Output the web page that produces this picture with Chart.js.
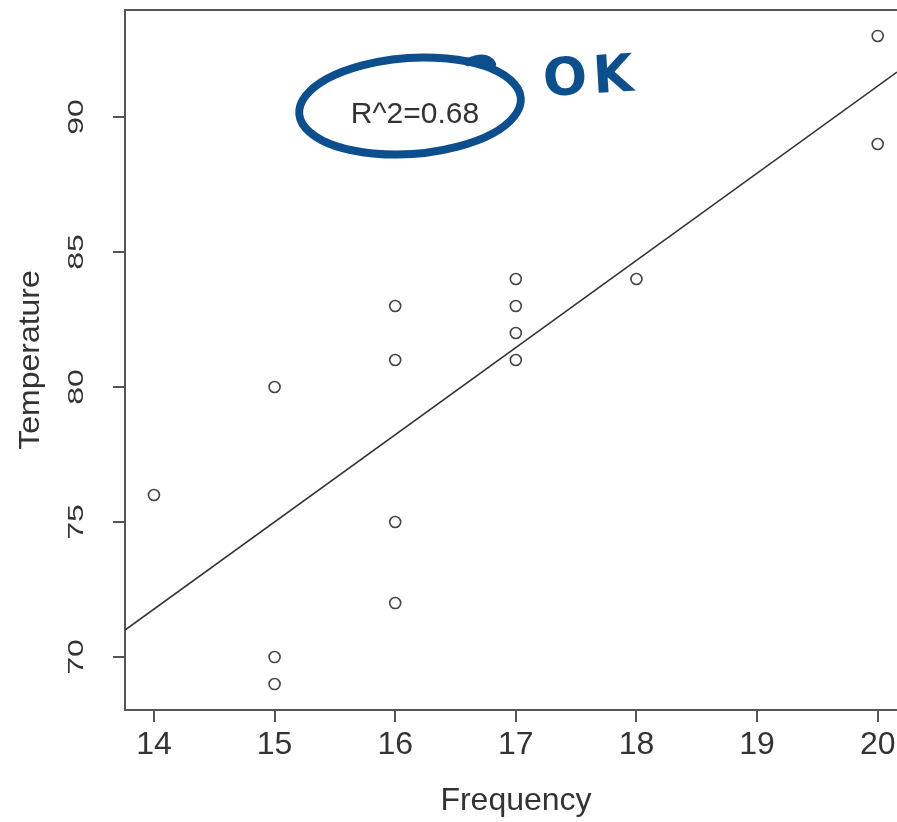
<!DOCTYPE html>
<html>
<head>
<meta charset="utf-8">
<script src="https://cdn.jsdelivr.net/npm/chart.js@4"></script>
<style>
  html, body { margin: 0; padding: 0; background: #fff; }
  #wrap { width: 897px; height: 822px; }
</style>
</head>
<body>
<div id="wrap"><canvas id="c" width="897" height="822"></canvas></div>
<script>
// ---- data ----
const frequency   = [14, 15, 15, 15, 16, 16, 16, 16, 17, 17, 17, 17, 18, 20, 20];
const temperature = [76, 80, 70, 69, 83, 81, 75, 72, 84, 83, 82, 81, 84, 93, 89];
const fitX = [13.76, 20.16];       // regression line ends (visible range)
const fitY = [71.0, 91.66];
const xTicks = [14, 15, 16, 17, 18, 19, 20];
const yTicks = [70, 75, 80, 85, 90];
const xLabel = 'Frequency';
const yLabel = 'Temperature';
const r2Text = 'R^2=0.68';
const noteText = 'OK';

const FONT = '"Liberation Sans", Arial, Helvetica, sans-serif';
const AXIS = '#555';
const INK = '#333';
const BLUE = '#0c4f8c';

const points = frequency.map((f, i) => ({ x: f, y: temperature[i] }));
const fitLine = fitX.map((f, i) => ({ x: f, y: fitY[i] }));

const overlay = {
  id: 'overlay',
  afterDraw(chart) {
    const ctx = chart.ctx;
    const a = chart.chartArea;
    const ys = chart.scales.y;
    ctx.save();
    // top border of the box
    ctx.strokeStyle = AXIS; ctx.lineWidth = 2;
    ctx.beginPath(); ctx.moveTo(a.left, a.top); ctx.lineTo(a.right, a.top); ctx.stroke();

    // y tick labels (rotated, R style)
    ctx.fillStyle = INK;
    ctx.font = '32px ' + FONT;
    ctx.textAlign = 'center';
    ctx.textBaseline = 'alphabetic';
    yTicks.forEach(v => {
      const py = ys.getPixelForValue(v);
      ctx.save();
      ctx.translate(83, py);
      ctx.rotate(-Math.PI / 2);
      ctx.scale(1, 0.68);
      ctx.fillText(String(v), 0, 0);
      ctx.restore();
    });
    // y axis title
    ctx.save();
    ctx.translate(39, (a.top + a.bottom) / 2);
    ctx.rotate(-Math.PI / 2);
    ctx.scale(1, 0.9);
    ctx.fillText(yLabel, 0, 0);
    ctx.restore();
    // x axis title
    ctx.fillText(xLabel, 516, 810);

    // R^2 annotation
    ctx.font = '30px ' + FONT;
    ctx.fillText(r2Text, 415, 123);

    // hand-drawn blue ellipse
    ctx.strokeStyle = BLUE;
    ctx.lineWidth = 8;
    ctx.lineCap = 'round';
    ctx.beginPath();
    ctx.ellipse(410, 106, 111, 48, -0.07, -1.2, 2 * Math.PI - 1.15);
    ctx.stroke();
    ctx.beginPath();
    ctx.moveTo(468, 62);
    ctx.quadraticCurveTo(486, 54, 492, 64);
    ctx.stroke();

    // OK note
    ctx.fillStyle = BLUE;
    ctx.font = 'bold 52px "DejaVu Sans", sans-serif';
    ctx.textAlign = 'left';
    ctx.save();
    ctx.translate(544, 96);
    ctx.rotate(-0.06);
    ctx.letterSpacing = '6px';
    ctx.fillText(noteText, 0, 0);
    ctx.restore();
    ctx.restore();
  }
};

new Chart(document.getElementById('c'), {
  type: 'scatter',
  data: {
    datasets: [
      {
        label: 'obs',
        data: points,
        pointStyle: 'circle',
        pointRadius: 5.5,
        pointBorderWidth: 1.6,
        borderColor: '#444',
        backgroundColor: 'rgba(0,0,0,0)',
        pointHoverRadius: 5.5
      },
      {
        type: 'line',
        label: 'fit',
        data: fitLine,
        borderColor: INK,
        borderWidth: 1.6,
        pointRadius: 0,
        fill: false,
        tension: 0
      }
    ]
  },
  options: {
    responsive: false,
    animation: false,
    events: [],
    layout: { autoPadding: false, padding: { top: 10, right: 0, left: 0, bottom: 0 } },
    plugins: { legend: { display: false }, tooltip: { enabled: false } },
    scales: {
      x: {
        type: 'linear',
        min: 13.76, max: 20.16,
        afterBuildTicks: s => { s.ticks = xTicks.map(v => ({ value: v })); },
        afterFit: s => { s.height = 112; s.paddingLeft = 0; s.paddingRight = 0; },
        grid: { display: true, drawOnChartArea: false, drawTicks: true, tickLength: 12, color: AXIS, lineWidth: 2 },
        border: { display: true, color: AXIS, width: 2 },
        ticks: { color: INK, font: { family: FONT, size: 32 }, padding: 4, maxRotation: 0, autoSkip: false }
      },
      y: {
        type: 'linear',
        min: 68.04, max: 93.96,
        afterBuildTicks: s => { s.ticks = yTicks.map(v => ({ value: v })); },
        afterFit: s => { s.width = 125; s.paddingTop = 0; s.paddingBottom = 0; },
        grid: { display: true, drawOnChartArea: false, drawTicks: true, tickLength: 12, color: AXIS, lineWidth: 2 },
        border: { display: true, color: AXIS, width: 2 },
        ticks: { display: false }
      }
    }
  },
  plugins: [overlay]
});
</script>
</body>
</html>
